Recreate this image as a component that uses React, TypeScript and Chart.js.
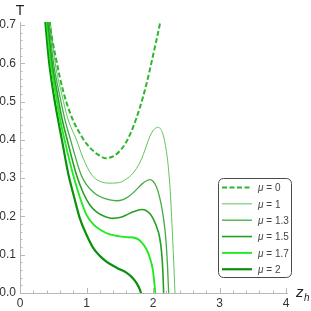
import { useEffect, useRef } from 'react';
import { Chart, registerables } from 'chart.js';
Chart.register(...registerables);

// ---- data (z_h, T) ----
const zMu0 = [0.42, 0.45, 0.5, 0.55, 0.6, 0.65, 0.7, 0.8, 0.9, 0.93, 1.0, 1.13, 1.2, 1.28, 1.4, 1.5, 1.6, 1.7, 1.8, 1.9, 2.0, 2.1, 2.15];
const tMu0 = [0.75, 0.70, 0.648, 0.605, 0.563, 0.527, 0.497, 0.45, 0.417, 0.408, 0.39, 0.367, 0.359, 0.352, 0.357, 0.371, 0.395, 0.433, 0.483, 0.545, 0.62, 0.70, 0.745];

const zMu1 = [0.43, 0.53, 0.63, 0.72, 0.85, 0.95, 1.08, 1.2, 1.35, 1.5, 1.6, 1.7, 1.8, 1.855, 1.955, 2.0, 2.05, 2.08, 2.12, 2.15, 2.18, 2.21, 2.23, 2.26, 2.28, 2.3, 2.32, 2.33];
const tMu1 = [0.75, 0.6, 0.518, 0.455, 0.4, 0.352, 0.308, 0.292, 0.287, 0.289, 0.298, 0.313, 0.34, 0.362, 0.41, 0.424, 0.432, 0.433, 0.427, 0.415, 0.392, 0.36, 0.33, 0.265, 0.2, 0.125, 0.045, 0];

const zMu13 = [0.41, 0.505, 0.595, 0.67, 0.76, 0.92, 1.0, 1.1, 1.2, 1.35, 1.45, 1.55, 1.65, 1.75, 1.85, 1.955, 2.0, 2.05, 2.1, 2.15, 2.18, 2.2, 2.22, 2.235];
const tMu13 = [0.75, 0.6, 0.518, 0.457, 0.4, 0.308, 0.283, 0.264, 0.252, 0.243, 0.241, 0.244, 0.254, 0.27, 0.287, 0.296, 0.292, 0.278, 0.25, 0.205, 0.165, 0.125, 0.065, 0];

const zMu15 = [0.395, 0.485, 0.565, 0.63, 0.71, 0.85, 0.95, 1.05, 1.15, 1.25, 1.4, 1.5, 1.6, 1.7, 1.83, 1.9, 1.955, 2.0, 2.05, 2.1, 2.13, 2.15, 2.16];
const tMu15 = [0.75, 0.6, 0.518, 0.457, 0.4, 0.308, 0.262, 0.23, 0.212, 0.202, 0.195, 0.197, 0.204, 0.212, 0.218, 0.215, 0.207, 0.195, 0.175, 0.145, 0.105, 0.05, 0];

const zMu17 = [0.38, 0.465, 0.54, 0.6, 0.67, 0.8, 0.9, 1.0, 1.1, 1.2, 1.35, 1.5, 1.6, 1.7, 1.78, 1.85, 1.9, 1.95, 2.0, 2.035];
const tMu17 = [0.75, 0.6, 0.518, 0.457, 0.4, 0.308, 0.25, 0.204, 0.18, 0.166, 0.153, 0.148, 0.146, 0.145, 0.14, 0.128, 0.115, 0.093, 0.058, 0];

const zMu2 = [0.36, 0.44, 0.507, 0.57, 0.63, 0.73, 0.8, 0.9, 1.0, 1.1, 1.2, 1.3, 1.4, 1.5, 1.6, 1.7, 1.76, 1.8, 1.82];
const tMu2 = [0.75, 0.6, 0.518, 0.455, 0.4, 0.308, 0.26, 0.195, 0.152, 0.118, 0.097, 0.082, 0.071, 0.062, 0.053, 0.038, 0.024, 0.01, 0];

const muLabels = ['0', '1', '1.3', '1.5', '1.7', '2'];
const xTickValues = [0, 1, 2, 3, 4];
const yTickValues = [0, 0.1, 0.2, 0.3, 0.4, 0.5, 0.6, 0.7];

const seriesZ = [zMu0, zMu1, zMu13, zMu15, zMu17, zMu2];
const seriesT = [tMu0, tMu1, tMu13, tMu15, tMu17, tMu2];
const seriesColor = ['#2db52d', '#5cc45c', '#40ad40', '#24a024', '#22ea22', '#0b900b'];
const seriesWidth = [2, 1, 1.3, 1.6, 1.9, 2.2];
const seriesDash: number[][] = [[5, 2.5], [], [], [], [], []];

const FONT = '"Liberation Sans", Arial, sans-serif';

const axesPlugin = {
  id: 'mmaAxes',
  beforeDatasetsDraw(chart: any) {
    const { ctx, chartArea, scales } = chart;
    const { left, right, top, bottom } = chartArea;
    const x = scales.x, y = scales.y;
    ctx.save();
    ctx.strokeStyle = '#b8b8b8';
    ctx.lineWidth = 1;
    ctx.beginPath();
    ctx.moveTo(left + 0.5, top);
    ctx.lineTo(left + 0.5, bottom + 1);
    ctx.moveTo(left, bottom + 0.5);
    ctx.lineTo(right + 2, bottom + 0.5);
    for (let i = 0; i <= 35; i++) {
      const py = Math.round(y.getPixelForValue(i * 0.02)) + 0.5;
      const len = i % 5 === 0 ? 5 : 2.5;
      ctx.moveTo(left, py);
      ctx.lineTo(left + len, py);
    }
    for (let i = 0; i <= 20; i++) {
      const px = Math.round(x.getPixelForValue(i * 0.2)) + 0.5;
      const len = i % 5 === 0 ? 5 : 2.5;
      ctx.moveTo(px, bottom);
      ctx.lineTo(px, bottom - len);
    }
    ctx.stroke();
    ctx.restore();
  },
  afterDraw(chart: any) {
    const { ctx } = chart;
    ctx.save();
    ctx.fillStyle = '#222';
    ctx.textBaseline = 'alphabetic';
    ctx.textAlign = 'center';
    ctx.font = `14px ${FONT}`;
    ctx.fillText('T', 20, 15);
    ctx.textAlign = 'left';
    ctx.font = `italic 15px ${FONT}`;
    ctx.fillText('z', 296, 297);
    ctx.font = `italic 10px ${FONT}`;
    ctx.fillText('h', 304, 301);
    ctx.restore();
  },
};

const legendPlugin = {
  id: 'boxLegend',
  afterDatasetsDraw(chart: any) {
    const { ctx } = chart;
    ctx.save();
    const bx = 218.5, by = 178.5, bw = 73, bh = 99;
    ctx.beginPath();
    (ctx as any).roundRect(bx, by, bw, bh, 5);
    ctx.fillStyle = '#ffffff';
    ctx.fill();
    ctx.strokeStyle = '#4a4a4a';
    ctx.lineWidth = 1;
    ctx.stroke();
    for (let i = 0; i < muLabels.length; i++) {
      const ry = 187.5 + i * 16.35;
      ctx.beginPath();
      ctx.strokeStyle = seriesColor[i];
      ctx.lineWidth = seriesWidth[i];
      ctx.setLineDash(seriesDash[i]);
      ctx.moveTo(222, ry);
      ctx.lineTo(252, ry);
      ctx.stroke();
      ctx.setLineDash([]);
      ctx.fillStyle = '#444';
      ctx.textBaseline = 'middle';
      ctx.textAlign = 'left';
      ctx.font = `italic 10px ${FONT}`;
      ctx.fillText('μ', 258, ry + 1);
      const w = ctx.measureText('μ').width;
      ctx.font = `10px ${FONT}`;
      ctx.fillText(' = ' + muLabels[i], 258 + w, ry + 1);
    }
    ctx.restore();
  },
};

export default function App() {
  const ref = useRef<HTMLCanvasElement | null>(null);
  useEffect(() => {
    document.body.style.margin = '0';
    const canvas = ref.current!;
    const datasets = seriesZ.map((zs, i) => ({
      label: 'μ = ' + muLabels[i],
      data: zs.map((z, k) => ({ x: z, y: seriesT[i][k] })),
      borderColor: seriesColor[i],
      backgroundColor: seriesColor[i],
      borderWidth: seriesWidth[i],
      borderDash: seriesDash[i],
      pointRadius: 0,
      fill: false,
      cubicInterpolationMode: 'monotone' as const,
    }));
    const chart = new Chart(canvas, {
      type: 'line',
      data: { datasets },
      options: {
        animation: false,
        responsive: false,
        events: [],
        layout: { padding: { top: 22, right: 25, left: 0, bottom: 0 } },
        plugins: { legend: { display: false }, tooltip: { enabled: false }, title: { display: false } },
        scales: {
          x: {
            type: 'linear',
            min: 0,
            max: 4,
            grid: { display: false, drawTicks: false },
            border: { display: false },
            ticks: {
              font: { family: FONT, size: 12 },
              color: '#333',
              padding: 3,
              maxRotation: 0,
              callback: (v: any) => String(v),
            },
            afterBuildTicks: (s: any) => { s.ticks = xTickValues.map((v) => ({ value: v })); },
            afterFit: (s: any) => { s.height = 18; },
          },
          y: {
            type: 'linear',
            min: 0,
            max: 0.708,
            grid: { display: false, drawTicks: false },
            border: { display: false },
            ticks: {
              font: { family: FONT, size: 12 },
              color: '#333',
              padding: 4,
              callback: (v: any) => Number(v).toFixed(1),
            },
            afterBuildTicks: (s: any) => { s.ticks = yTickValues.map((v) => ({ value: v })); },
            afterFit: (s: any) => { s.width = 20; },
          },
        },
      },
      plugins: [axesPlugin, legendPlugin],
    });
    return () => chart.destroy();
  }, []);
  return (
    <div style={{ width: 311, height: 311, position: 'relative' }}>
      <canvas ref={ref} width={311} height={311} style={{ display: 'block' }} />
    </div>
  );
}
